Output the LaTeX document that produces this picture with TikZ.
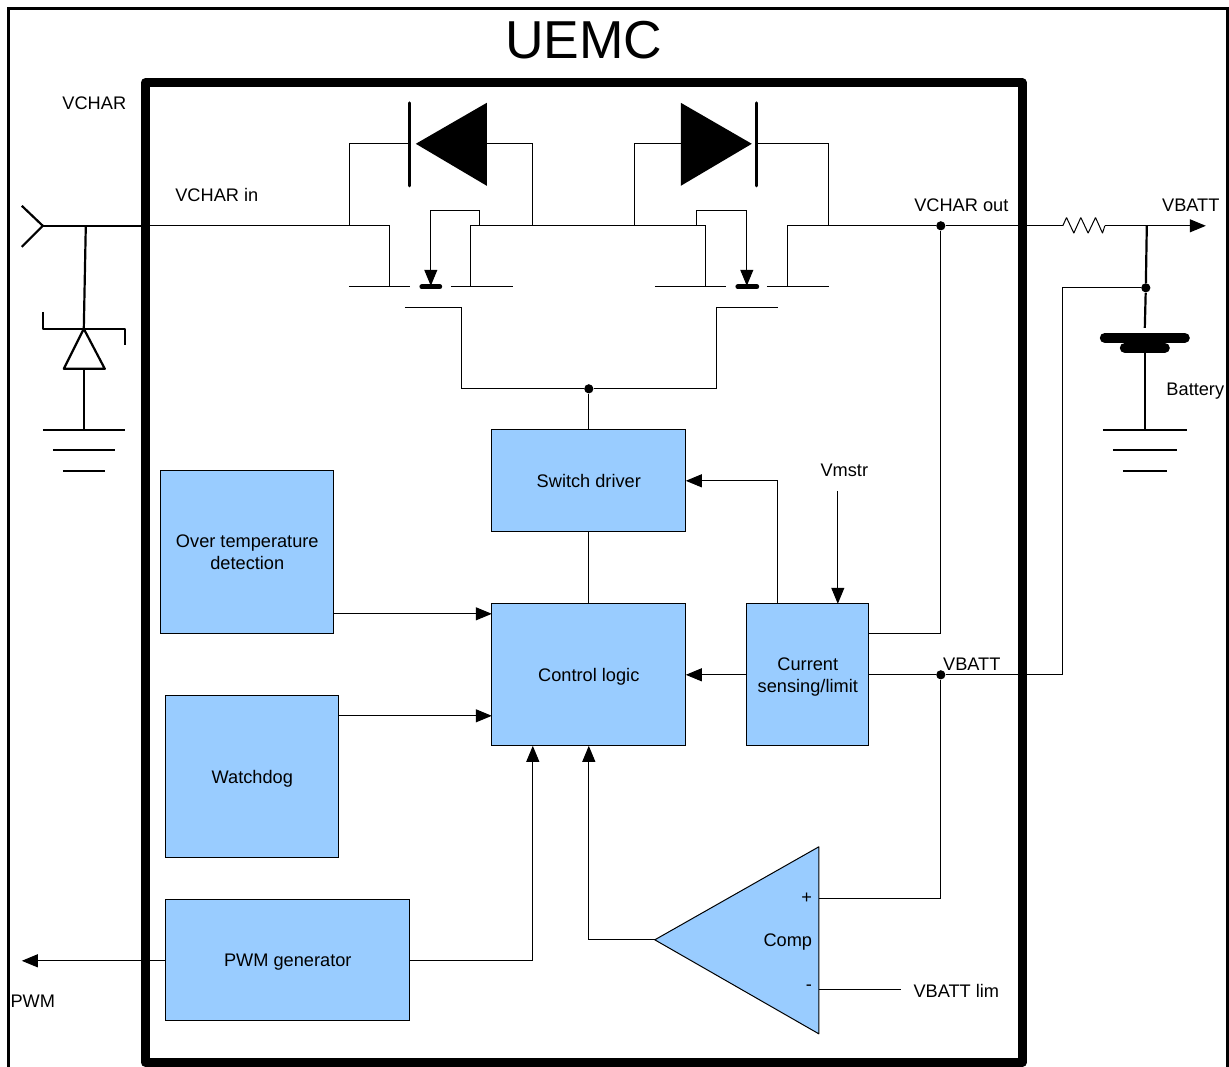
\documentclass[tikz,border=0pt]{standalone}
\usepackage{fontspec}
\setmainfont{Liberation Sans}
\usetikzlibrary{arrows.meta}
\definecolor{blockblue}{HTML}{99CCFF}
\tikzset{
  lab/.style={font=\fontsize{9.1}{11}\selectfont,align=center,inner sep=0pt,text height=6.5pt,text depth=0pt},
  block/.style={draw=black,line width=0.5pt,fill=blockblue,outer sep=0pt,inner sep=0pt,align=center,font=\fontsize{9.1}{11}\selectfont},
  blockone/.style={block,text height=6.5pt,text depth=0pt},
  wire/.style={black,line width=0.5pt},
  sig/.style={black,line width=0.5pt,-{Triangle[length=8pt,width=6.5pt]}},
  heavy/.style={black,line width=1.1pt},
  jdot/.style={circle,fill=black,inner sep=0pt,minimum size=4.6pt},
}
\begin{document}
\begin{tikzpicture}[x=0.5pt,y=-0.5pt]
  \useasboundingbox (0.2,0.2) rectangle (1229.2,1066.2);
  % frames
  \draw[black,line width=1.5pt] (9,1070) -- (9,9) -- (1228,9) -- (1228,1070);
  \draw[black,line width=4.5pt,line join=round] (145.5,83) rectangle (1022.5,1062.5);
  \node[font=\fontsize{26.7}{30}\selectfont,inner sep=0pt] (title) at (584,40.5) {UEMC};
  % blocks
  \node[blockone,minimum width=97pt,minimum height=51pt] (sw) at (589,481) {Switch driver};
  \node[block,minimum width=86.5pt,minimum height=81.5pt] (ot) at (247.5,552.5) {Over temperature\\detection};
  \node[blockone,minimum width=86.5pt,minimum height=81pt] (wd) at (252.5,777) {Watchdog};
  \node[blockone,minimum width=122pt,minimum height=60.5pt] (pw) at (288,960.5) {PWM generator};
  \node[blockone,minimum width=97pt,minimum height=71pt] (ctl) at (589,675) {Control logic};
  \node[block,minimum width=61pt,minimum height=71pt] (cur) at (808,675) {Current\\\smash{sensing/limit}};
  \draw[draw=black,line width=0.5pt,fill=blockblue,line join=round] (655,940) -- (819,847) -- (819,1034) -- cycle;
  % wire points
  \coordinate (cmptip) at (655,940);
  \coordinate (cmpp) at (819,899);
  \coordinate (cmpm) at (819,990);
  \coordinate (cmpm2) at (901,990);
  \coordinate (otin) at (492,614);
  \coordinate (wdin) at (492,716);
  \coordinate (pwin) at (533,746);
  \coordinate (cursw) at (778,604);
  \coordinate (vma) at (838,491);
  \coordinate (vmb) at (838,604);
  \coordinate (curhi) at (869,634);
  \coordinate (pwmend) at (22,961);
  \coordinate (pwmout) at (166,961);
  \coordinate (vin) at (43,226);
  \coordinate (vedge) at (145,226);
  \coordinate (tap) at (86,226);
  \coordinate (tvsa) at (84,329);
  \coordinate (tvsb) at (84,369);
  \coordinate (gnda) at (84,430);
  \coordinate (d1) at (390,287);
  \coordinate (s1) at (471,287);
  \coordinate (d2) at (706,287);
  \coordinate (s2) at (788,287);
  \coordinate (g1) at (405,308);
  \coordinate (g2) at (778,308);
  \coordinate (gm1) at (462,389);
  \coordinate (gk2) at (717,308);
  \coordinate (bk1) at (431,286);
  \coordinate (bk2) at (747,286);
  \coordinate (bt1) at (480,226);
  \coordinate (bt2) at (697,226);
  \coordinate (da1) at (350,226);
  \coordinate (da2) at (533,226);
  \coordinate (da3) at (635,226);
  \coordinate (da4) at (829,226);
  \coordinate (rin) at (1063,226);
  \coordinate (rout) at (1105,226);
  \coordinate (vbend) at (1206,226);
  \coordinate (btop) at (1147,226);
  \coordinate (bend) at (1145,328);
  \coordinate (bneg) at (1145,348);
  \coordinate (gndb) at (1145,430);
  \coordinate (sense) at (1063,288);
  \node[jdot] (jgate) at (589,389) {};
  \node[jdot] (jout) at (941,226) {};
  \node[jdot] (jbat) at (941,675) {};
  \node[jdot] (jsns) at (1146,288) {};
  % block connectors
  \draw[wire] (jgate) -- (sw.north);
  \draw[wire] (sw.south) -- (ctl.north);
  \draw[sig] (ot.east |- otin) -- (otin);
  \draw[sig] (wd.east |- wdin) -- (wdin);
  \draw[sig] (pw.east |- pwmout) -| (pwin);
  \draw[sig] (cmptip) -| (ctl.south);
  \draw[sig] (pwmout) -- (pwmend);
  \draw[sig] (cur.west) -- (ctl.east);
  \draw[sig] (cursw) |- (sw.east);
  \draw[sig] (vma) -- (vmb);
  \draw[wire] (curhi) -| (jout);
  \draw[wire] (cur.east) -- (jbat);
  \draw[wire] (jbat) -| (sense) -- (jsns);
  \draw[wire] (jbat) |- (cmpp);
  \draw[wire] (cmpm) -- (cmpm2);
  % input side
  \draw[heavy,line join=round] (22,206) -- (vin) -- (22,247);
  \draw[heavy,line width=1pt] (vin) -- (vedge);
  \draw[wire] (vedge) -| (d1);
  \draw[heavy] (tap) -- (tvsa);
  \draw[heavy] (tvsb) -- (gnda);
  \draw[heavy,line join=round] (43,312) -- (43,329) -- (125,329) -- (125,345);
  \draw[heavy,line join=round,fill=white] (tvsa) -- (64,369) -- (105,369) -- cycle;
  \draw[heavy] (43,430) -- (125,430);
  \draw[heavy] (53,450) -- (115,450);
  \draw[heavy] (63,471) -- (105,471);
  % switches
  \draw[wire] (349,287) -- (410,287);
  \draw[wire] (451,287) -- (513,287);
  \draw[wire] (655,287) -- (726,287);
  \draw[wire] (767,287) -- (829,287);
  \draw[line width=2.4pt,line cap=round] (422,287) -- (440,287);
  \draw[line width=2.4pt,line cap=round] (738,287) -- (757,287);
  \draw[wire] (s1) |- (da3) -| (d2);
  \draw[wire] (s2) |- (jout);
  \draw[sig] (bt1) -- (480,211) -| (bk1);
  \draw[sig] (bt2) -- (697,211) -| (bk2);
  \draw[wire] (g1) -| (gm1) -- (jgate);
  \draw[wire] (jgate) -| (gk2) -- (g2);
  % diodes
  \draw[wire] (da1) |- (410,144);
  \draw[wire] (da2) |- (487,144);
  \draw[wire] (da3) |- (681,144);
  \draw[wire] (da4) |- (757,144);
  \draw[black,line width=1.5pt,line cap=round] (410,103) -- (410,186);
  \draw[black,line width=1.5pt,line cap=round] (757,103) -- (757,186);
  \fill[black] (416,144) -- (487,103) -- (487,186) -- cycle;
  \fill[black] (752,144) -- (681,103) -- (681,186) -- cycle;
  % output side
  \draw[wire] (jout) -- (rin);
  \draw[wire,line join=bevel] (rin) -- (1066.7,217.7) -- (1074,233.3) -- (1081,217.7) -- (1088.3,233.3) -- (1095.7,217.7) -- (1102.7,233.3) -- (rout);
  \draw[sig] (rout) -- (vbend);
  \draw[heavy] (btop) -- (jsns) -- (bend);
  \draw[line width=5pt,line cap=round] (1105,338) -- (1185,338);
  \draw[line width=5pt,line cap=round] (1125,348) -- (1165,348);
  \draw[heavy] (bneg) -- (gndb);
  \draw[heavy] (1103,430) -- (1187,430);
  \draw[heavy] (1113,450) -- (1177,450);
  \draw[heavy] (1123,471) -- (1167,471);
  % labels
  \node[lab] (lchar) at (94.5,103) {VCHAR};
  \node[lab] (lin) at (217,195) {VCHAR in};
  \node[lab] (lout) at (961.5,205) {VCHAR out};
  \node[lab] (lbatt) at (1191,205) {VBATT};
  \node[lab] (lcell) at (1195.5,389) {Battery};
  \node[lab] (lvm) at (844.5,470) {Vmstr};
  \node[lab] (lsns) at (972,664) {VBATT};
  \node[lab] (lcmp) at (788,940) {Comp};
  \node[lab] (lplus) at (807,897) {+};
  \node[lab] (lminus) at (809,984) {-};
  \node[lab] (llim) at (956.5,991) {VBATT lim};
  \node[lab] (lpwm) at (33,1001) {PWM};
\end{tikzpicture}
\end{document}
